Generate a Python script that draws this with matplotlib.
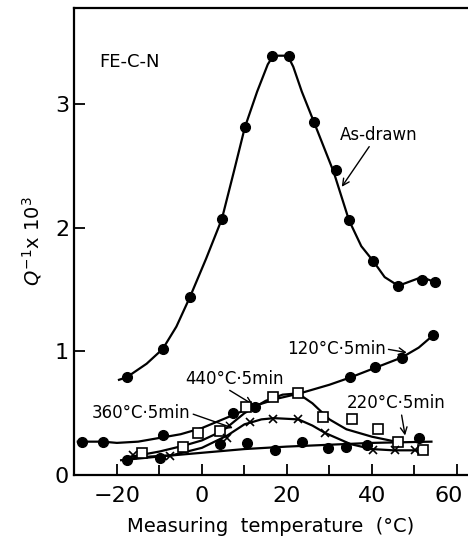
import matplotlib
matplotlib.use("Agg")
import matplotlib.pyplot as plt
import matplotlib.transforms as mtransforms
from matplotlib.ticker import MultipleLocator

plt.rcParams["font.family"] = ["DejaVu Sans"]

asdrawn_T = [-17.7, -9.2, -2.8, 4.7, 10.1, 16.5, 20.5, 26.4, 31.5, 34.6, 40.3, 46.2, 51.7, 54.8]
asdrawn_Q = [0.79, 1.02, 1.44, 2.07, 2.81, 3.39, 3.39, 2.85, 2.47, 2.06, 1.73, 1.53, 1.58, 1.56]

t120_T = [-28.3, -23.3, -9.2, 7.3, 12.5, 34.8, 40.7, 47.1, 54.4]
t120_Q = [0.27, 0.27, 0.32, 0.50, 0.55, 0.79, 0.87, 0.95, 1.13]

t440_T = [-14.1, -4.5, -1.0, 4.2, 10.3, 16.7, 22.6, 28.5, 35.3, 41.4, 46.1, 52.0]
t440_Q = [0.18, 0.23, 0.34, 0.36, 0.55, 0.63, 0.66, 0.47, 0.45, 0.37, 0.27, 0.20]

t360_T = [-16.2, -7.5, 6.0, 11.4, 16.8, 22.7, 29.0, 40.3, 45.4, 50.1]
t360_Q = [0.16, 0.15, 0.30, 0.43, 0.45, 0.45, 0.34, 0.20, 0.20, 0.20]

t220_T = [-17.7, -9.9, 4.2, 10.6, 17.3, 23.6, 29.6, 33.8, 38.8, 51.0]
t220_Q = [0.12, 0.14, 0.25, 0.26, 0.20, 0.27, 0.22, 0.23, 0.24, 0.30]

# --- hand-drawn fit curves ---------------------------------------------------
asdrawn_fitT = [-19.5, -17.7, -13, -9.2, -6, -2.8, 1, 4.7, 7.5, 10.1, 13, 15.5, 16.8,
                20.2, 21.5, 23.5, 26.4, 31, 34.6, 37.5, 40.3, 43, 46.2, 51.7, 54.8]
asdrawn_fitQ = [0.77, 0.79, 0.90, 1.02, 1.20, 1.44, 1.75, 2.07, 2.45, 2.81, 3.10, 3.32, 3.39,
                3.39, 3.30, 3.10, 2.85, 2.45, 2.06, 1.85, 1.73, 1.60, 1.53, 1.60, 1.56]

t120_fitT = [-29.2, -23.3, -20, -15, -10, -5, 0, 7, 12.5, 18, 23, 30, 35, 41, 47, 51, 54.4]
t120_fitQ = [0.27, 0.27, 0.26, 0.27, 0.30, 0.33, 0.38, 0.48, 0.56, 0.62, 0.66, 0.73, 0.79,
             0.87, 0.95, 1.03, 1.13]

t440_fitT = [-18, -10, -4, 0, 5, 10, 15, 19, 22.6, 26, 30, 34, 40, 47]
t440_fitQ = [0.14, 0.19, 0.24, 0.28, 0.36, 0.50, 0.60, 0.65, 0.66, 0.58, 0.45, 0.37, 0.31, 0.26]

t360_fitT = [-18, -12, -7, 0, 6, 10, 14, 17, 22.7, 26, 29, 35, 40, 45, 53]
t360_fitQ = [0.13, 0.15, 0.16, 0.22, 0.32, 0.41, 0.45, 0.46, 0.45, 0.40, 0.34, 0.25, 0.21, 0.20, 0.20]

t220_fitT = [-19, -10, 0, 10, 20, 30, 40, 47, 54]
t220_fitQ = [0.12, 0.15, 0.18, 0.21, 0.23, 0.245, 0.26, 0.265, 0.27]

fig = plt.figure(figsize=(4.68, 5.38), dpi=100)
ax = fig.add_axes([0.158, 0.117, 0.842, 0.868])

lk = dict(color="black", lw=1.6, zorder=2)
ax.plot(asdrawn_fitT, asdrawn_fitQ, **lk)
ax.plot(t120_fitT, t120_fitQ, **lk)
ax.plot(t440_fitT, t440_fitQ, **lk)
ax.plot(t360_fitT, t360_fitQ, **lk)
ax.plot(t220_fitT, t220_fitQ, **lk)

ax.plot(asdrawn_T, asdrawn_Q, "o", color="black", ms=7, zorder=3)
ax.plot(t120_T, t120_Q, "o", color="black", ms=7, zorder=3)
ax.plot(t220_T, t220_Q, "o", color="black", ms=7, zorder=3)
ax.plot(t440_T, t440_Q, "s", mfc="white", mec="black", mew=1.2, ms=7, zorder=4)
ax.plot(t360_T, t360_Q, "x", color="black", mew=1.2, ms=6, zorder=4)

ax.set_xlim(-30.1, 62.6)
ax.set_ylim(0, 3.775)
ax.spines["right"].set_visible(False)
for s in ax.spines.values():
    s.set_linewidth(1.6)

ax.xaxis.set_major_locator(MultipleLocator(20))
ax.xaxis.set_minor_locator(MultipleLocator(10))
ax.yaxis.set_major_locator(MultipleLocator(1))
ax.tick_params(which="both", direction="in", labelsize=16, width=1.3)
ax.tick_params(which="major", length=8)
ax.tick_params(which="minor", length=7)
ax.tick_params(axis="y", right=False)
ax.tick_params(axis="x", pad=8)

ax.set_xlabel("Measuring  temperature  (°C)", fontsize=14, labelpad=8)
ax.set_ylabel(r"$Q^{-1}$x 10$^{3}$", fontsize=14, labelpad=8)

# last x tick label sits on the right edge: nudge it inward so it is not clipped
fig.canvas.draw()
for lab in ax.get_xticklabels():
    if lab.get_text() in ("60",):
        lab.set_transform(lab.get_transform() +
                          mtransforms.ScaledTranslation(-6 / 72, 0, fig.dpi_scale_trans))

ax.text(-24.2, 3.34, "FE-C-N", fontsize=13, va="center", ha="left")

ap = dict(arrowstyle="->", color="black", lw=1.0, shrinkA=0, shrinkB=0)
ax.annotate("As-drawn", xy=(32.9, 2.33), xytext=(32.5, 2.75), fontsize=12,
            va="center", ha="left", arrowprops=dict(ap, relpos=(0.4, 0.0)))
ax.annotate("120°C·5min", xy=(48.2, 0.99), xytext=(20.0, 1.02), fontsize=12,
            va="center", ha="left", arrowprops=dict(ap, relpos=(1.0, 0.5)))
ax.annotate("440°C·5min", xy=(12.0, 0.57), xytext=(-3.8, 0.78), fontsize=12,
            va="center", ha="left", arrowprops=dict(ap, relpos=(0.4, 0.0)))
ax.annotate("360°C·5min", xy=(7.3, 0.38), xytext=(-25.9, 0.50), fontsize=12,
            va="center", ha="left", arrowprops=dict(ap, relpos=(1.0, 0.5)))
ax.annotate("220°C·5min", xy=(47.8, 0.32), xytext=(34.1, 0.58), fontsize=12,
            va="center", ha="left", arrowprops=dict(ap, relpos=(0.55, 0.0)))

fig.savefig("out.png", dpi=100)
